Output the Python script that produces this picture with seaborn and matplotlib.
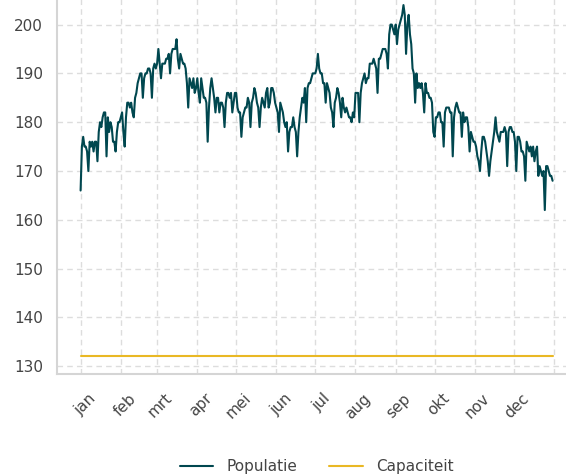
import pandas as pd
import numpy as np
import matplotlib.pyplot as plt
import matplotlib.dates as mdates
from matplotlib.ticker import NullFormatter
import seaborn as sns

# Daily population per month
jan = [166, 175, 177, 175, 175, 174, 170, 176, 175, 176, 174, 176, 176, 172, 178, 180, 179, 181, 182, 182,
       173, 181, 178, 180, 179, 176, 176, 174, 178, 180, 180]
feb = [181, 182, 178, 175, 181, 184, 184, 183, 184, 182, 181, 185, 186, 188, 189, 190, 190, 185, 189, 190,
       190, 191, 191, 190, 185, 191, 192, 191]
mrt = [192, 195, 192, 189, 192, 192, 192, 193, 193, 194, 190, 194, 195, 195, 195, 197, 193, 191, 194, 193,
       192, 192, 191, 188, 183, 189, 188, 187, 189, 186, 187]
apr = [189, 186, 184, 189, 187, 185, 185, 184, 176, 183, 187, 189, 187, 185, 182, 185, 185, 182, 184, 184,
       183, 179, 184, 186, 186, 185, 186, 182, 184, 186]
mei = [186, 183, 182, 182, 177, 181, 182, 183, 183, 185, 184, 179, 184, 185, 187, 186, 184, 183, 179, 183,
       185, 184, 183, 186, 187, 183, 184, 187, 187, 186, 184]
jun = [183, 182, 178, 184, 183, 182, 180, 179, 180, 174, 178, 179, 179, 181, 179, 178, 173, 178, 181, 183,
       185, 184, 187, 180, 187, 188, 188, 189, 190, 190]
jul = [190, 191, 194, 191, 190, 190, 188, 188, 184, 188, 187, 186, 183, 182, 179, 184, 185, 187, 186, 184,
       181, 185, 183, 182, 183, 182, 181, 181, 180, 182, 181]
aug = [186, 186, 186, 180, 186, 188, 189, 190, 188, 189, 189, 192, 192, 192, 193, 192, 191, 186, 193, 193,
       194, 195, 195, 195, 194, 191, 198, 200, 200, 199, 198]
sep = [200, 196, 199, 200, 201, 202, 204, 202, 194, 200, 202, 198, 196, 191, 190, 184, 190, 187, 188, 187,
       188, 186, 182, 188, 186, 186, 185, 185, 184, 178]
okt = [177, 181, 181, 182, 182, 180, 180, 175, 182, 183, 183, 183, 182, 182, 173, 181, 183, 184, 183, 182,
       182, 177, 182, 180, 181, 181, 179, 174, 178, 177, 176]
nov = [176, 175, 173, 172, 170, 174, 177, 177, 176, 174, 172, 169, 172, 174, 176, 178, 181, 178, 177, 176,
       178, 178, 178, 179, 178, 171, 178, 179, 179, 178]
dec = [178, 176, 170, 177, 177, 176, 174, 174, 173, 168, 176, 175, 174, 175, 173, 175, 172, 174, 175, 169,
       171, 170, 169, 170, 162, 171, 171, 170, 169, 169, 168]

capaciteit = 132
maanden = ['jan', 'feb', 'mrt', 'apr', 'mei', 'jun', 'jul', 'aug', 'sep', 'okt', 'nov', 'dec']

populatie = jan + feb + mrt + apr + mei + jun + jul + aug + sep + okt + nov + dec
datums = pd.date_range('2023-01-01', periods=len(populatie), freq='D')

df = pd.DataFrame({'datum': datums, 'Populatie': populatie, 'Capaciteit': capaciteit})
long_df = df.melt(id_vars='datum', var_name='reeks', value_name='aantal')

sns.set_theme(style='whitegrid')

fig = plt.figure(figsize=(5.66, 4.75), dpi=100)
ax = fig.add_axes([0.1007, 0.2126, 0.9173, 0.8137])

sns.lineplot(data=long_df, x='datum', y='aantal', hue='reeks', estimator=None,
             palette={'Populatie': '#00474f', 'Capaciteit': '#e9b824'},
             linewidth=1.5, ax=ax)

# month boundaries -> grid, mid-month -> labels
ax.xaxis.set_major_locator(mdates.MonthLocator())
ax.xaxis.set_major_formatter(NullFormatter())
midden = [pd.Timestamp(2023, m, 15) for m in range(1, 13)]
ax.set_xticks(midden, maanden, minor=True, rotation=45, ha='right')

ax.grid(False, which='minor')
ax.grid(True, which='major', linestyle=(0, (4, 3)), color='#dddddd', linewidth=1)

ax.set_xlabel('')
ax.set_ylabel('')
ax.tick_params(axis='x', which='both', length=0, labelsize=11, labelcolor='#444444')
ax.tick_params(axis='x', which='minor', pad=12)
ax.tick_params(axis='y', length=0, labelsize=11, labelcolor='#444444', pad=10)

for side in ['top', 'right']:
    ax.spines[side].set_visible(False)
for side in ['left', 'bottom']:
    ax.spines[side].set_visible(True)
    ax.spines[side].set_color('#d5d5d5')
    ax.spines[side].set_linewidth(1.5)

sns.move_legend(ax, 'center', bbox_to_anchor=(0.5, -0.24), ncol=2, frameon=False, title=None,
                fontsize=11, handlelength=2.2, handletextpad=0.85, columnspacing=2.1)
for t in ax.get_legend().get_texts():
    t.set_color('#444444')

fig.savefig('out.png', dpi=100)
